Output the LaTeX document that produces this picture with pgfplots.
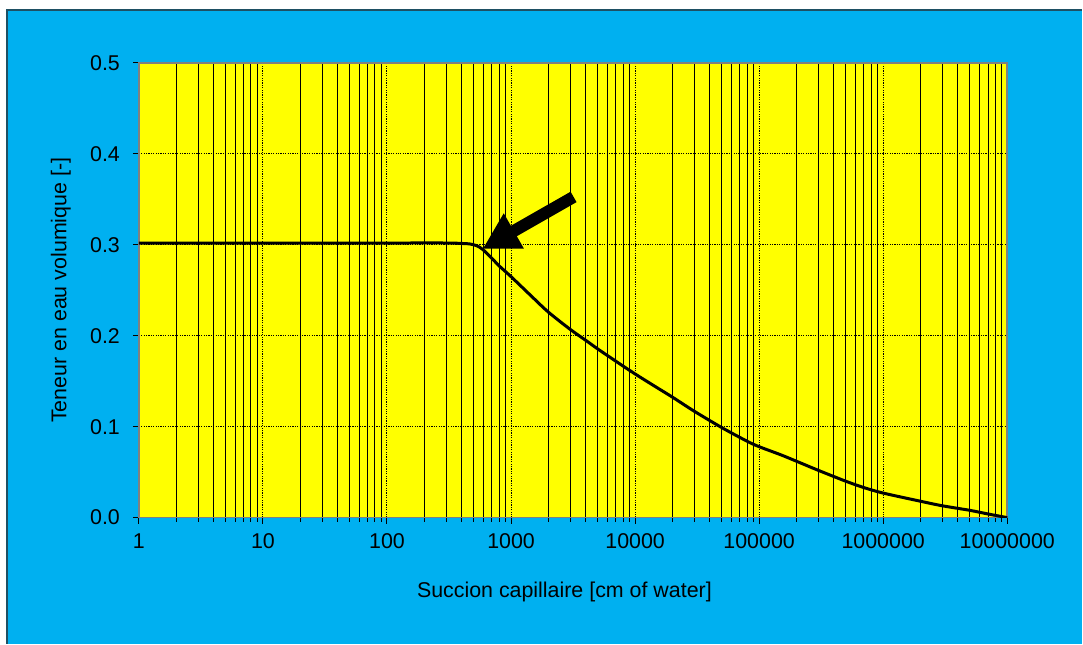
\documentclass[border=0pt]{standalone}
\usepackage{pgfplots}
\pgfplotsset{compat=1.18}
\usepackage{fontspec}
\setmainfont{Liberation Sans}
\usetikzlibrary{arrows.meta}
\definecolor{bgblue}{RGB}{0,176,240}
\definecolor{frame}{RGB}{30,80,100}
\definecolor{plotyellow}{RGB}{255,255,0}
\definecolor{boxgray}{RGB}{128,128,128}
\begin{document}
\begin{tikzpicture}
\fill[white] (-69.5pt,-63pt) rectangle (472pt,259pt);
\fill[bgblue] (-66pt,-63pt) rectangle (472pt,254pt);
\draw[frame,line width=0.8pt] (-66pt,-63pt) -- (-66pt,254pt) -- (472pt,254pt);
\begin{axis}[
  at={(0,0)}, anchor=south west,
  scale only axis, width=434.5pt, height=227.5pt,
  xmode=log, xmin=1, xmax=10000000, ymin=0, ymax=0.5,
  axis background/.style={fill=plotyellow},
  axis line style={boxgray, line width=0.8pt},
  tick label style={font=\fontsize{10.7}{12.5}\selectfont},
  label style={font=\fontsize{10.7}{12.5}\selectfont},
  /pgf/number format/assume math mode=true,
  xtick={1,10,100,1000,10000,100000,1000000,10000000},
  xticklabels={1,10,100,1000,10000,100000,1000000,10000000},
  minor xtick={2,3,4,5,6,7,8,9,20,30,40,50,60,70,80,90,200,300,400,500,600,700,800,900,2000,3000,4000,5000,6000,7000,8000,9000,20000,30000,40000,50000,60000,70000,80000,90000,200000,300000,400000,500000,600000,700000,800000,900000,2000000,3000000,4000000,5000000,6000000,7000000,8000000,9000000},
  ytick={0,0.1,0.2,0.3,0.4,0.5},
  yticklabel style={/pgf/number format/fixed, /pgf/number format/fixed zerofill, /pgf/number format/precision=1, xshift=-3pt},
  xticklabel style={yshift=-1.5pt},
  xtick pos=left, ytick pos=left,
  tick align=outside,
  major tick length=3pt, minor tick length=2pt,
  tick style={black, line width=0.5pt},
  xmajorgrids, xminorgrids, ymajorgrids,
  major grid style={black, line width=0.5pt, dash pattern=on 0.6pt off 0.6pt},
  minor grid style={black, line width=0.5pt},
  xlabel={Succion capillaire [cm of water]},
  ylabel={Teneur en eau volumique [-]},
  xlabel style={at={(axis description cs:0.49,-0.1626)}, anchor=center},
  ylabel style={at={(axis description cs:-0.0898,0.5)}, anchor=center},
]
\addplot[black, line width=1.5pt, smooth] coordinates {
(1,0.302) (10,0.302) (100,0.302) (300,0.302) (400,0.3015) (464,0.301) (530,0.299) (590,0.295) (680,0.287) (800,0.277) (1000,0.265) (1500,0.242) (2000,0.226) (3000,0.207) (4000,0.195) (5000,0.1855) (7000,0.172) (10000,0.158) (15000,0.143) (20000,0.1325) (30000,0.117) (50000,0.099) (80000,0.084) (100000,0.078) (150000,0.069) (200000,0.062) (300000,0.052) (500000,0.040) (700000,0.033) (1000000,0.027) (2000000,0.018) (3000000,0.013) (5000000,0.008) (7000000,0.004) (10000000,0.0)
};
\draw[black, line width=6pt, -{Triangle[length=18pt,width=19pt]}] (axis cs:3192,0.3527) -- (axis cs:590,0.2956);
\end{axis}
\end{tikzpicture}
\end{document}
